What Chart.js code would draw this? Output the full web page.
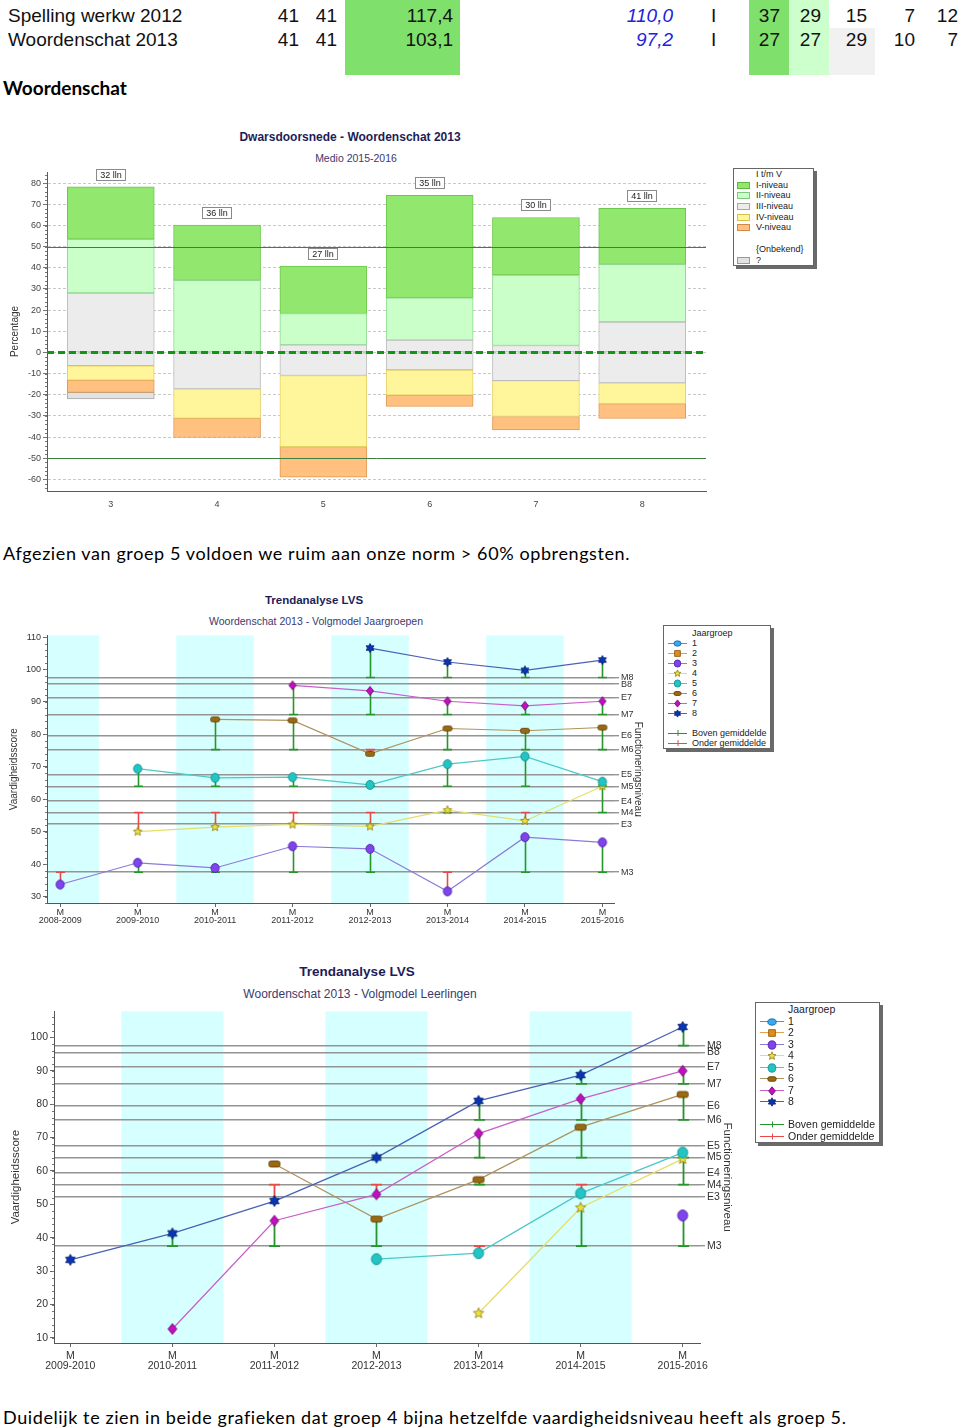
<!DOCTYPE html>
<html lang="nl">
<head>
  <meta charset="UTF-8">
  <title>Woordenschat 2013</title>
  <script src="https://cdn.jsdelivr.net/npm/chart.js"></script>
  <style>
    * { margin: 0; padding: 0; box-sizing: border-box; }
    body {
      width: 960px; height: 1428px; position: relative; overflow: hidden;
      background: #fff; font-family: "Liberation Sans", Arial, sans-serif; color: #111;
    }
    .blok { position: absolute; }
    .tabel span { position: absolute; font-size: 19px; line-height: 24px; white-space: nowrap; }
    .tekst { position: absolute; left: 3px; font-family: Lato, sans-serif; font-size: 18px; line-height: 22px; letter-spacing: 0.6px; white-space: nowrap; color: #000; }
    .titel { position: absolute; width: 400px; text-align: center; white-space: nowrap; color: #1d1d58; font-weight: bold; }
    .sub { position: absolute; width: 400px; text-align: center; white-space: nowrap; color: #3a3a6e; }
    canvas.chart { position: absolute; left: 0; }
    .legenda {
      position: absolute; background: #fff; border: 1px solid #666;
      box-shadow: 3px 3px 0 #6a6a6a; color: #222; white-space: nowrap;
    }
    .legenda div { position: relative; display: flex; align-items: center; }
    .legenda canvas { display: block; }
  </style>
</head>
<body>
  <div class="blok" style="left:345px;top:0;width:115px;height:75px;background:#80e06c"></div>
  <div class="blok" style="left:749px;top:0;width:40px;height:75px;background:#80e06c"></div>
  <div class="blok" style="left:789px;top:0;width:40px;height:75px;background:#ccffcc"></div>
  <div class="blok" style="left:829px;top:28px;width:46px;height:47px;background:#f1f1f1"></div>
  <div class="tabel" id="tabel"></div>

  <div class="tekst" style="top:77px;font-weight:bold;font-size:19px;letter-spacing:0">Woordenschat</div>

  <div class="titel" style="left:150px;top:129px;font-size:12px;line-height:16px">Dwarsdoorsnede - Woordenschat 2013</div>
  <div class="sub" style="left:156px;top:151px;font-size:10.5px;line-height:14px">Medio 2015-2016</div>
  <canvas class="chart" id="bar-chart" width="712" height="353" style="top:160px"></canvas>
  <div class="legenda" id="bar-legenda" style="left:733px;top:168px;width:81px;height:98px;font-size:9px;line-height:10.7px;padding-top:0px"></div>

  <div class="tekst" style="top:542px">Afgezien van groep 5 voldoen we ruim aan onze norm &gt; 60% opbrengsten.</div>

  <div class="titel" style="left:114px;top:593px;font-size:11.5px;line-height:15px">Trendanalyse LVS</div>
  <div class="sub" style="left:116px;top:614px;font-size:10.5px;line-height:14px">Woordenschat 2013 - Volgmodel Jaargroepen</div>
  <canvas class="chart" id="trend-jaargroepen" width="650" height="300" style="top:628px"></canvas>
  <div class="legenda" id="legenda-1" style="left:663px;top:625px;width:108px;height:124px;font-size:9px;line-height:10px;padding-top:2px"></div>

  <div class="titel" style="left:157px;top:963px;font-size:13.5px;line-height:17px">Trendanalyse LVS</div>
  <div class="sub" style="left:160px;top:986px;font-size:12px;line-height:16px">Woordenschat 2013 - Volgmodel Leerlingen</div>
  <canvas class="chart" id="trend-leerlingen" width="740" height="367" style="top:1003px"></canvas>
  <div class="legenda" id="legenda-2" style="left:755px;top:1002px;width:125px;height:141px;font-size:10.5px;line-height:11.5px;padding-top:1px"></div>

  <div class="tekst" style="top:1406px">Duidelijk te zien in beide grafieken dat groep 4 bijna hetzelfde vaardigheidsniveau heeft als groep 5.</div>

  <script>
    // ---- tabel bovenaan ----
    const toetsen = ['Spelling werkw 2012', 'Woordenschat 2013'];
    const aantalA = [41, 41];
    const aantalB = [41, 41];
    const scores = ['117,4', '103,1'];
    const normScores = ['110,0', '97,2'];
    const niveaus = ['I', 'I'];
    const verdeling = [[37, 29, 15, 7, 12], [27, 27, 29, 10, 7]];

    // ---- dwarsdoorsnede ----
    const groepen = [3, 4, 5, 6, 7, 8];
    const leerlingen = [32, 36, 27, 35, 30, 41];
    const niveauI = [24.8, 26.1, 22.4, 48.5, 27.2, 26.5];
    const niveauII = [25.4, 34.1, 14.8, 20.0, 33.3, 27.2];
    const niveauIIIboven = [28.1, 0.0, 3.6, 5.8, 3.3, 14.4];
    const niveauIIIonder = [6.3, 17.2, 10.9, 8.3, 13.3, 14.4];
    const niveauIV = [6.8, 14.0, 33.6, 11.9, 17.0, 9.8];
    const niveauV = [5.8, 9.0, 14.5, 5.3, 6.3, 7.0];
    const onbekend = [3.1, 0, 0, 0, 0, 0];
    const nulLijn = [0];
    const normLijnen = [50, -50];

    // ---- trendanalyse ----
    const niveauLabels = ['M8', 'B8', 'E7', 'M7', 'E6', 'M6', 'E5', 'M5', 'E4', 'M4', 'E3', 'M3'];
    const niveauScores = [97.5, 95.5, 91.2, 86.1, 79.5, 75.3, 67.5, 64.0, 59.4, 55.9, 52.3, 37.5];
    const jaargroepen = [1, 2, 3, 4, 5, 6, 7, 8];

    const jaren1 = ['2008-2009', '2009-2010', '2010-2011', '2011-2012', '2012-2013', '2013-2014', '2014-2015', '2015-2016'];
    const jg3Jaar = [33.7, 40.4, 38.8, 45.5, 44.7, 31.6, 48.3, 46.7];
    const jg4Jaar = [null, 50.0, 51.4, 52.2, 51.6, 56.6, 53.3, 64.0];
    const jg5Jaar = [null, 69.4, 66.6, 66.8, 64.4, 70.8, 73.2, 65.4];
    const jg6Jaar = [null, null, 84.6, 84.3, 74.0, 81.8, 81.1, 82.1];
    const jg7Jaar = [null, null, null, 95.1, 93.4, 90.2, 88.8, 90.2];
    const jg8Jaar = [null, null, null, null, 106.6, 102.3, 99.7, 102.9];
    const banden1 = [0, 2, 4, 6];

    const jaren2 = ['2009-2010', '2010-2011', '2011-2012', '2012-2013', '2013-2014', '2014-2015', '2015-2016'];
    const jg3Lln = [null, null, null, null, null, null, 46.7];
    const jg4Lln = [null, null, null, null, 17.4, 49.0, 63.6];
    const jg5Lln = [null, null, null, 33.6, 35.4, 53.3, 65.5];
    const jg6Lln = [null, null, 62.1, 45.6, 57.4, 73.1, 82.9];
    const jg7Lln = [null, 12.7, 45.1, 53.0, 71.2, 81.6, 90.0];
    const jg8Lln = [33.4, 41.3, 51.0, 64.0, 81.0, 88.7, 103.1];
    const banden2 = [1, 3, 5];

    Chart.defaults.font.family = '"Liberation Sans", Arial, sans-serif';
    Chart.defaults.color = '#333';
    Chart.defaults.animation = false;

    // tabel opbouwen
    const tabel = document.getElementById('tabel');
    function cel(text, top, pos, extra) {
      const s = document.createElement('span');
      s.textContent = text;
      s.style.top = top + 'px';
      Object.assign(s.style, pos, extra || {});
      tabel.appendChild(s);
    }
    toetsen.forEach((naam, r) => {
      const top = 4 + r * 24;
      cel(naam, top, { left: '8px' });
      cel(aantalA[r], top, { right: (960 - 299) + 'px' });
      cel(aantalB[r], top, { right: (960 - 337) + 'px' });
      cel(scores[r], top, { right: (960 - 453) + 'px' });
      cel(normScores[r], top, { right: (960 - 673) + 'px' }, { fontStyle: 'italic', color: '#2222dd' });
      cel(niveaus[r], top, { left: '711px' });
      const randen = [780, 821, 867, 915, 958];
      verdeling[r].forEach((v, k) => cel(v, top, { right: (960 - randen[k]) + 'px' }));
    });

    // kleine streepjes langs de y-as
    const streepjesPlugin = {
      id: 'streepjes',
      afterDraw(chart, args, opts) {
        const { ctx, chartArea, scales: { y } } = chart;
        ctx.save();
        ctx.strokeStyle = '#777';
        ctx.lineWidth = 1;
        ctx.beginPath();
        for (let v = Math.ceil(y.min / opts.stap) * opts.stap; v <= y.max; v += opts.stap) {
          const py = Math.round(y.getPixelForValue(v)) + 0.5;
          ctx.moveTo(chartArea.left - 2, py);
          ctx.lineTo(chartArea.left, py);
        }
        ctx.stroke();
        ctx.restore();
      }
    };

    // ---- staafdiagram ----
    function staaf(label, values, sign, bg, border) {
      return {
        label,
        data: values.map((v, i) => ({ x: groepen[i], y: sign * v })),
        backgroundColor: bg,
        borderColor: border,
        borderWidth: 1,
        borderSkipped: false,
        barThickness: 87,
      };
    }

    const lijnenPlugin = {
      id: 'lijnen',
      afterDatasetsDraw(chart) {
        const { ctx, chartArea, scales: { y } } = chart;
        ctx.save();
        normLijnen.forEach(v => {
          const py = Math.round(y.getPixelForValue(v)) + 0.5;
          ctx.strokeStyle = '#3f7f3f';
          ctx.lineWidth = 1;
          ctx.beginPath(); ctx.moveTo(chartArea.left, py); ctx.lineTo(chartArea.right, py); ctx.stroke();
        });
        nulLijn.forEach(v => {
          const py = y.getPixelForValue(v);
          ctx.strokeStyle = '#129512';
          ctx.lineWidth = 3;
          ctx.setLineDash([7, 4]);
          ctx.beginPath(); ctx.moveTo(chartArea.left, py); ctx.lineTo(chartArea.right, py); ctx.stroke();
        });
        ctx.restore();
      }
    };

    const llnPlugin = {
      id: 'lln',
      afterDatasetsDraw(chart) {
        const { ctx, scales: { x, y } } = chart;
        ctx.save();
        ctx.font = '9px "Liberation Sans"';
        ctx.textAlign = 'center';
        ctx.textBaseline = 'middle';
        groepen.forEach((g, i) => {
          const top = niveauIIIboven[i] + niveauII[i] + niveauI[i];
          const px = Math.round(x.getPixelForValue(g));
          const py = Math.round(y.getPixelForValue(top)) - 6;
          const text = leerlingen[i] + ' lln';
          const w = Math.round(ctx.measureText(text).width) + 8;
          ctx.fillStyle = '#fff';
          ctx.fillRect(px - w / 2, py - 12, w, 12);
          ctx.strokeStyle = '#8a8a8a';
          ctx.lineWidth = 1;
          ctx.strokeRect(px - w / 2 + 0.5, py - 11.5, w - 1, 11);
          ctx.fillStyle = '#222';
          ctx.fillText(text, px, py - 5.5);
        });
        ctx.restore();
      }
    };

    new Chart(document.getElementById('bar-chart'), {
      type: 'bar',
      data: {
        datasets: [
          staaf('III-niveau', niveauIIIboven, 1, '#ececec', '#bdbdbd'),
          staaf('II-niveau', niveauII, 1, '#caffca', '#90d890'),
          staaf('I-niveau', niveauI, 1, '#92e86e', '#6cc84a'),
          staaf('III-niveau', niveauIIIonder, -1, '#ececec', '#bdbdbd'),
          staaf('IV-niveau', niveauIV, -1, '#fff59a', '#e6d068'),
          staaf('V-niveau', niveauV, -1, '#ffc080', '#e09a55'),
          staaf('?', onbekend, -1, '#e2e2e2', '#a9a9a9'),
        ],
      },
      options: {
        responsive: false,
        layout: { padding: { top: 12, right: 6 } },
        plugins: { legend: { display: false }, tooltip: { enabled: false }, streepjes: { stap: 2 } },
        scales: {
          x: {
            type: 'linear', stacked: true, offset: false, min: 2.4, max: 8.6,
            afterBuildTicks: s => { s.ticks = groepen.map(v => ({ value: v })); },
            ticks: { font: { size: 9 }, color: '#444', padding: 0 },
            grid: { display: false },
            border: { color: '#5a5a5a' },
            afterFit: s => { s.height = 22; },
          },
          y: {
            stacked: true, min: -65.5, max: 85.3,
            ticks: { stepSize: 10, includeBounds: false, font: { size: 9 }, color: '#444', padding: 2 },
            grid: { color: '#c9c9c9', tickColor: '#777', tickLength: 4 },
            border: { color: '#5a5a5a', dash: [3, 2] },
            title: { display: true, text: 'Percentage', font: { size: 10 }, color: '#333', padding: { top: 9, bottom: 0 } },
            afterFit: s => { s.width = 47; },
          },
        },
      },
      plugins: [lijnenPlugin, llnPlugin, streepjesPlugin],
    });

    // legenda staafdiagram
    const barLegenda = document.getElementById('bar-legenda');
    const legendaRegels = [
      ['I t/m V', null], ['I-niveau', ['#92e86e', '#5fb840']], ['II-niveau', ['#caffca', '#80c880']],
      ['III-niveau', ['#ececec', '#a8a8a8']], ['IV-niveau', ['#fff59a', '#d8c050']], ['V-niveau', ['#ffc080', '#d08a45']],
      ['', null], ['{Onbekend}', null], ['?', ['#e2e2e2', '#999']],
    ];
    legendaRegels.forEach(([tekst, kleur]) => {
      const d = document.createElement('div');
      d.style.height = '10.7px';
      if (kleur) {
        const sw = document.createElement('span');
        Object.assign(sw.style, { position: 'absolute', left: '3px', top: '2px', width: '13px', height: '7px', background: kleur[0], border: '1px solid ' + kleur[1] });
        d.appendChild(sw);
      }
      const t = document.createElement('span');
      t.textContent = tekst;
      t.style.marginLeft = '22px';
      d.appendChild(t);
      barLegenda.appendChild(d);
    });

    // ---- trendgrafieken ----
    const stijl = {
      1: { lijn: '#3a9ae0', vorm: 'ellipse', vul: '#38a8f0', rand: '#1060a0' },
      2: { lijn: '#e0a050', vorm: 'square', vul: '#e08c1a', rand: '#8a5000' },
      3: { lijn: '#8c7ad8', vorm: 'circle', vul: '#7f44ec', rand: '#4a1aa8' },
      4: { lijn: '#e4de6a', vorm: 'star5', vul: '#ece040', rand: '#8a7a10' },
      5: { lijn: '#4cc8c8', vorm: 'circle', vul: '#22c4c4', rand: '#0a8a8a' },
      6: { lijn: '#b0935e', vorm: 'bar', vul: '#9a6a12', rand: '#5a3a00' },
      7: { lijn: '#c860c8', vorm: 'diamond', vul: '#c010c0', rand: '#700070' },
      8: { lijn: '#4a62b4', vorm: 'star6', vul: '#0a34b0', rand: '#001a70' },
    };

    function marker(jg, r) {
      const st = stijl[jg];
      const c = document.createElement('canvas');
      const w = Math.ceil(r * 2 + 3);
      c.width = w; c.height = w;
      const ctx = c.getContext('2d');
      ctx.translate(w / 2, w / 2);
      ctx.fillStyle = st.vul;
      ctx.strokeStyle = st.rand;
      ctx.lineWidth = 0.8;
      ctx.beginPath();
      if (st.vorm === 'circle') {
        ctx.ellipse(0, 0, r * 0.92, r, 0, 0, Math.PI * 2);
      } else if (st.vorm === 'ellipse') {
        ctx.ellipse(0, 0, r, r * 0.75, 0, 0, Math.PI * 2);
      } else if (st.vorm === 'square') {
        ctx.rect(-r * 0.8, -r * 0.8, r * 1.6, r * 1.6);
      } else if (st.vorm === 'bar') {
        ctx.roundRect(-r, -r * 0.55, r * 2, r * 1.1, 2);
      } else if (st.vorm === 'diamond') {
        ctx.moveTo(0, -r); ctx.lineTo(r * 0.8, 0); ctx.lineTo(0, r); ctx.lineTo(-r * 0.8, 0);
      } else {
        const n = st.vorm === 'star5' ? 5 : 6;
        const inner = n === 5 ? 0.45 : 0.58;
        for (let k = 0; k < n * 2; k++) {
          const rr = k % 2 ? r * inner : r;
          const a = -Math.PI / 2 + k * Math.PI / n;
          ctx.lineTo(Math.cos(a) * rr, Math.sin(a) * rr);
        }
      }
      ctx.closePath();
      ctx.fill();
      ctx.stroke();
      return c;
    }

    function normVoor(groep) {
      const k = niveauLabels.indexOf('M' + groep);
      return k < 0 ? null : niveauScores[k];
    }

    const bandenPlugin = {
      id: 'banden',
      beforeDraw(chart, args, opts) {
        const { ctx, chartArea, scales: { x } } = chart;
        ctx.save();
        ctx.fillStyle = '#d6ffff';
        opts.indices.forEach(i => {
          const l = Math.max(chartArea.left + 1, x.getPixelForValue(i - 0.5));
          const r = Math.min(chartArea.right, x.getPixelForValue(i + 0.5));
          ctx.fillRect(l, chartArea.top, r - l, chartArea.bottom - chartArea.top);
        });
        ctx.restore();
      }
    };

    const snorrenPlugin = {
      id: 'snorren',
      beforeDatasetsDraw(chart, args, opts) {
        const { ctx, scales: { y } } = chart;
        ctx.save();
        ctx.lineWidth = opts.breedte;
        chart.data.datasets.forEach((ds, di) => {
          const meta = chart.getDatasetMeta(di);
          ds.data.forEach((pt, i) => {
            if (pt.y == null) return;
            const norm = normVoor(ds.groepen[i]);
            if (norm == null) return;
            const el = meta.data[i];
            const px = Math.round(el.x) + 0.5;
            const yn = y.getPixelForValue(norm);
            ctx.strokeStyle = pt.y >= norm ? '#25962a' : '#e64a4a';
            ctx.beginPath();
            ctx.moveTo(px, el.y); ctx.lineTo(px, yn);
            ctx.moveTo(px - opts.kap, yn); ctx.lineTo(px + opts.kap, yn);
            ctx.stroke();
          });
        });
        ctx.restore();
      }
    };

    function trend(id, jaren, reeksen, groepOp, cfg) {
      const datasets = reeksen.map(([jg, values]) => ({
        label: 'Jaargroep ' + jg,
        data: values.map((v, i) => ({ x: i, y: v })),
        groepen: values.map((v, i) => groepOp(jg, i)),
        borderColor: stijl[jg].lijn,
        borderWidth: cfg.lijn,
        pointStyle: marker(jg, cfg.r),
        pointRadius: 4,
        fill: false,
      }));
      return new Chart(document.getElementById(id), {
        type: 'line',
        data: { datasets },
        options: {
          responsive: false,
          layout: { padding: { top: 5 } },
          plugins: {
            legend: { display: false }, tooltip: { enabled: false },
            banden: { indices: cfg.banden },
            snorren: { breedte: cfg.snor, kap: cfg.kap },
            streepjes: { stap: 2 },
          },
          scales: {
            x: {
              type: 'linear', min: cfg.xmin, max: cfg.xmax,
              afterBuildTicks: s => { s.ticks = jaren.map((j, i) => ({ value: i })); },
              ticks: { callback: v => ['M', jaren[v]], font: { size: cfg.font, lineHeight: 0.95 }, color: '#333', padding: cfg.xpad, maxRotation: 0, autoSkip: false },
              grid: { drawOnChartArea: false, tickLength: 4, color: '#666' },
              border: { color: '#555' },
              afterFit: s => { s.height = cfg.xh; },
            },
            y: {
              min: cfg.ymin, max: cfg.ymax,
              ticks: { stepSize: 10, includeBounds: false, font: { size: cfg.font }, color: '#333', padding: 2 },
              grid: { drawOnChartArea: false, tickLength: 4, color: '#666' },
              border: { color: '#555' },
              title: { display: true, text: 'Vaardigheidsscore', font: { size: cfg.font + 1 }, color: '#333', padding: { top: cfg.titelL, bottom: 0 } },
              afterFit: s => { s.width = cfg.yw; },
            },
            y2: {
              position: 'right', min: cfg.ymin, max: cfg.ymax,
              afterBuildTicks: s => { s.ticks = niveauScores.map(v => ({ value: v })); },
              ticks: { callback: v => niveauLabels[niveauScores.indexOf(v)], autoSkip: false, font: { size: cfg.font }, color: '#333', padding: 2 },
              grid: { color: '#949494', lineWidth: 1.4, tickLength: 5 },
              border: { display: false },
              title: { display: true, text: 'Functioneringsniveau', font: { size: cfg.font + 1 }, color: '#333', padding: { top: cfg.titelR, bottom: 0 } },
              afterFit: s => { s.width = cfg.y2w; },
            },
          },
        },
        plugins: [bandenPlugin, snorrenPlugin, streepjesPlugin],
      });
    }

    trend('trend-jaargroepen', jaren1,
      [[8, jg8Jaar], [7, jg7Jaar], [6, jg6Jaar], [5, jg5Jaar], [4, jg4Jaar], [3, jg3Jaar]],
      (jg, i) => jg,
      { r: 4.5, lijn: 1.2, snor: 1.6, kap: 4.5, font: 9, xpad: 1, xmin: -0.17, xmax: 7.15, ymin: 28, ymax: 110.5,
        xh: 25, yw: 47, y2w: 36, titelL: 8, titelR: 6, banden: banden1 });

    trend('trend-leerlingen', jaren2,
      [[8, jg8Lln], [7, jg7Lln], [6, jg6Lln], [5, jg5Lln], [4, jg4Lln], [3, jg3Lln]],
      (jg, i) => jg - (jaren2.length - 1 - i),
      { r: 5.5, lijn: 1.3, snor: 1.8, kap: 5.5, font: 10.5, xpad: 4, xmin: -0.16, xmax: 6.17, ymin: 8.5, ymax: 107.8,
        xh: 27, yw: 54, y2w: 40, titelL: 9, titelR: 6, banden: banden2 });

    // legenda's trendgrafieken
    function legendaIcoon(kleur, inhoud, w, h) {
      const c = document.createElement('canvas');
      c.width = w; c.height = h;
      const ctx = c.getContext('2d');
      ctx.strokeStyle = kleur;
      ctx.lineWidth = 1;
      ctx.beginPath(); ctx.moveTo(0, Math.floor(h / 2) + 0.5); ctx.lineTo(w, Math.floor(h / 2) + 0.5); ctx.stroke();
      if (inhoud === 'tick') {
        ctx.beginPath(); ctx.moveTo(w / 2 + 0.5, h / 2 - 3); ctx.lineTo(w / 2 + 0.5, h / 2 + 3); ctx.stroke();
      } else if (inhoud) {
        ctx.drawImage(inhoud, Math.round((w - inhoud.width) / 2), Math.round((h - inhoud.height) / 2));
      }
      return c;
    }

    function vulLegenda(id, iw, ih, r, links, regel) {
      const box = document.getElementById(id);
      const regels = [['Jaargroep', null]];
      jaargroepen.forEach(jg => regels.push([String(jg), legendaIcoon(stijl[jg].lijn, marker(jg, r), iw, ih)]));
      regels.push(['', null]);
      regels.push(['Boven gemiddelde', legendaIcoon('#25962a', 'tick', iw, ih)]);
      regels.push(['Onder gemiddelde', legendaIcoon('#e64a4a', 'tick', iw, ih)]);
      regels.forEach(([tekst, icoon]) => {
        const d = document.createElement('div');
        d.style.height = regel + 'px';
        if (icoon) {
          Object.assign(icoon.style, { position: 'absolute', left: '4px', top: ((regel - ih) / 2) + 'px' });
          d.appendChild(icoon);
        }
        const t = document.createElement('span');
        t.textContent = tekst;
        t.style.marginLeft = links + 'px';
        d.appendChild(t);
        box.appendChild(d);
      });
    }
    vulLegenda('legenda-1', 19, 10, 3.6, 28, 10);
    vulLegenda('legenda-2', 24, 11, 4.2, 32, 11.5);
  </script>
</body>
</html>
